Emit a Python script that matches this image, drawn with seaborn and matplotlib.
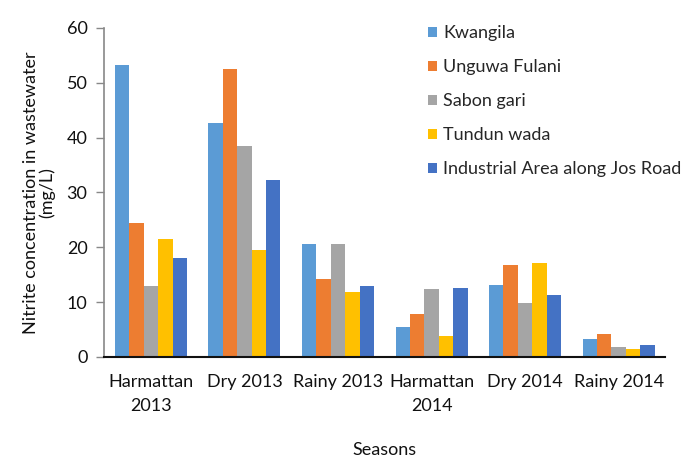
import matplotlib
matplotlib.use("Agg")
import matplotlib.pyplot as plt
import seaborn as sns
import pandas as pd

seasons = ["Harmattan\n2013", "Dry 2013", "Rainy 2013", "Harmattan\n2014", "Dry 2014", "Rainy 2014"]
sites = ["Kwangila", "Unguwa Fulani", "Sabon gari", "Tundun wada", "Industrial Area along Jos Road"]
kwangila = [53.2, 42.7, 20.6, 5.4, 13.2, 3.2]
unguwa_fulani = [24.5, 52.4, 14.3, 7.9, 16.7, 4.1]
sabon_gari = [13.0, 38.5, 20.6, 12.3, 9.8, 1.8]
tundun_wada = [21.5, 19.5, 11.9, 3.8, 17.1, 1.5]
industrial = [18.0, 32.2, 12.9, 12.5, 11.3, 2.1]
colors = ["#5B9BD5", "#ED7D31", "#A5A5A5", "#FFC000", "#4472C4"]

series = [kwangila, unguwa_fulani, sabon_gari, tundun_wada, industrial]
rows = []
for site, vals in zip(sites, series):
    for s, v in zip(seasons, vals):
        rows.append({"Season": s, "Site": site, "Value": v})
df = pd.DataFrame(rows)

sns.set_theme(style="white")
plt.rcParams["font.family"] = ["Lato", "Liberation Sans", "DejaVu Sans"]

FS = 13
fig = plt.figure(figsize=(6.81, 4.63), dpi=100)
ax = fig.add_axes([0.153, 0.229, 0.824, 0.711])

sns.barplot(data=df, x="Season", y="Value", hue="Site", order=seasons,
            hue_order=sites, palette=colors, width=0.77, gap=0,
            saturation=1, errorbar=None, ax=ax, linewidth=0)

ax.set_ylim(0, 60)
ax.set_xlim(-0.5, 5.5)
ax.set_yticks(range(0, 61, 10))
ax.tick_params(axis="y", labelsize=FS, length=6, width=1, color="#888888",
               direction="out", left=True, pad=6)
ax.tick_params(axis="x", labelsize=FS, length=0, pad=12)
for lab in ax.get_yticklabels() + ax.get_xticklabels():
    lab.set_color("#111111")
for lab in ax.get_xticklabels():
    lab.set_linespacing(1.65)

for side in ["top", "right"]:
    ax.spines[side].set_visible(False)
ax.spines["left"].set_color("#888888")
ax.spines["left"].set_linewidth(1.2)
ax.spines["bottom"].set_color("#111111")
ax.spines["bottom"].set_linewidth(1.5)

ax.set_ylabel("Nitrite concentration in wastewater\n(mg/L)", fontsize=FS,
              color="#111111", labelpad=8, linespacing=1.0)
ax.set_xlabel("Seasons", fontsize=FS, color="#111111", labelpad=20)

handles, labels = ax.get_legend_handles_labels()
leg = ax.legend(handles, labels, loc="upper left", bbox_to_anchor=(0.565, 1.03),
                frameon=False, fontsize=FS, handlelength=0.5, handleheight=0.5,
                handletextpad=0.3, labelspacing=1.0, borderaxespad=0)

fig.savefig("out.png", dpi=100, facecolor="white")
